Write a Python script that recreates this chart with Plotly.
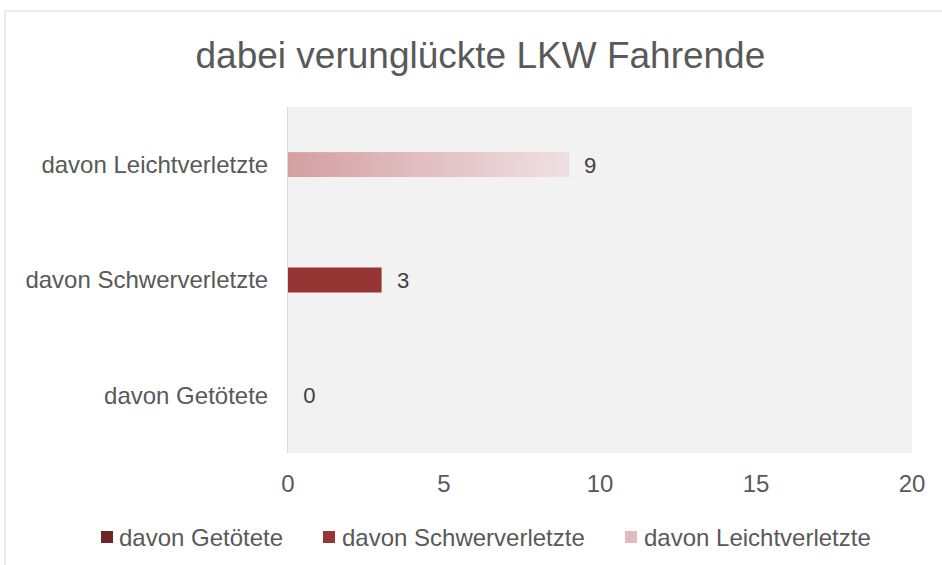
import plotly.graph_objects as go

categories = ["davon Getötete", "davon Schwerverletzte", "davon Leichtverletzte"]
values = [0, 3, 9]
colors = ["#6e2526", "#963634", "#e0bcbd"]
x_ticks = [0, 5, 10, 15, 20]

W, H = 942, 565
L, R, T, B = 288, 30, 107, 112
PW, PH = W - L - R, H - T - B
bar_w = 0.216
FONT = "Liberation Sans, Arial, sans-serif"
FS = 24

def px(x):
    return (x - L) / PW

def py(y):
    return (H - B - y) / PH

fig = go.Figure()
pos = list(range(len(categories)))
for i, (c, v, col) in enumerate(zip(categories, values, colors)):
    fig.add_trace(go.Bar(
        y=[pos[i]], x=[v], orientation="h", name=c, width=bar_w,
        marker=dict(color=col, line=dict(width=0)),
        text=[f"\u00a0\u00a0{v}"], textposition="outside", cliponaxis=False,
        textfont=dict(size=FS, color="#404040", family=FONT),
        hoverinfo="skip", showlegend=False,
    ))

# gradient overlay for the light bar
v = values[2]; p = pos[2]
fig.add_trace(go.Scatter(
    x=[0, v, v, 0, 0], y=[p - bar_w / 2, p - bar_w / 2, p + bar_w / 2, p + bar_w / 2, p - bar_w / 2],
    fill="toself", mode="lines", line=dict(width=0), showlegend=False, hoverinfo="skip",
    fillgradient=dict(type="horizontal", colorscale=[[0, "#d49fa1"], [1, "#f0e0e1"]]),
))

# legend drawn as squares + text (positions in pixels)
leg_marker_x = [101, 323, 625]
leg_text_x = [117, 340, 642]
leg_y = 537
shapes = [
    dict(type="line", xref="paper", yref="paper", x0=px(5), x1=px(942), y0=py(11), y1=py(11),
         line=dict(color="#d9d9d9", width=1)),
    dict(type="line", xref="paper", yref="paper", x0=px(5), x1=px(5), y0=py(11), y1=py(565),
         line=dict(color="#d9d9d9", width=1)),
]
annotations = []
for c, col, mx, tx in zip(categories, colors, leg_marker_x, leg_text_x):
    shapes.append(dict(type="rect", xref="paper", yref="paper", x0=px(mx), x1=px(mx + 12),
                       y0=py(leg_y + 6), y1=py(leg_y - 6), fillcolor=col, line=dict(width=0)))
    annotations.append(dict(text=c, xref="paper", yref="paper", x=px(tx), y=py(leg_y),
                            xanchor="left", yanchor="middle", showarrow=False,
                            font=dict(size=FS, color="#595959", family=FONT)))

fig.update_layout(
    width=W, height=H,
    margin=dict(l=L, r=R, t=T, b=B),
    paper_bgcolor="white", plot_bgcolor="#f2f2f2",
    font=dict(family=FONT, color="#595959", size=FS),
    title=dict(text="dabei verunglückte LKW Fahrende", x=0.51, xanchor="center",
               y=1 - 55 / H, yanchor="middle", font=dict(size=37, color="#595959")),
    barmode="overlay",
    showlegend=False,
    xaxis=dict(range=[0, 20], tickvals=x_ticks, showgrid=False, zeroline=False, showline=False,
               ticklabelstandoff=14, tickfont=dict(size=FS, color="#595959"), fixedrange=True),
    yaxis=dict(range=[-0.5, 2.5], tickvals=pos, ticktext=categories, showgrid=False, zeroline=False,
               showline=True, linecolor="#d9d9d9", linewidth=1, ticklabelstandoff=14,
               tickfont=dict(size=FS, color="#595959"), fixedrange=True),
    shapes=shapes,
    annotations=annotations,
)

fig.write_html("out.html", config={"displayModeBar": False},
               post_script="document.body.style.margin='0';document.body.style.overflow='hidden';")
